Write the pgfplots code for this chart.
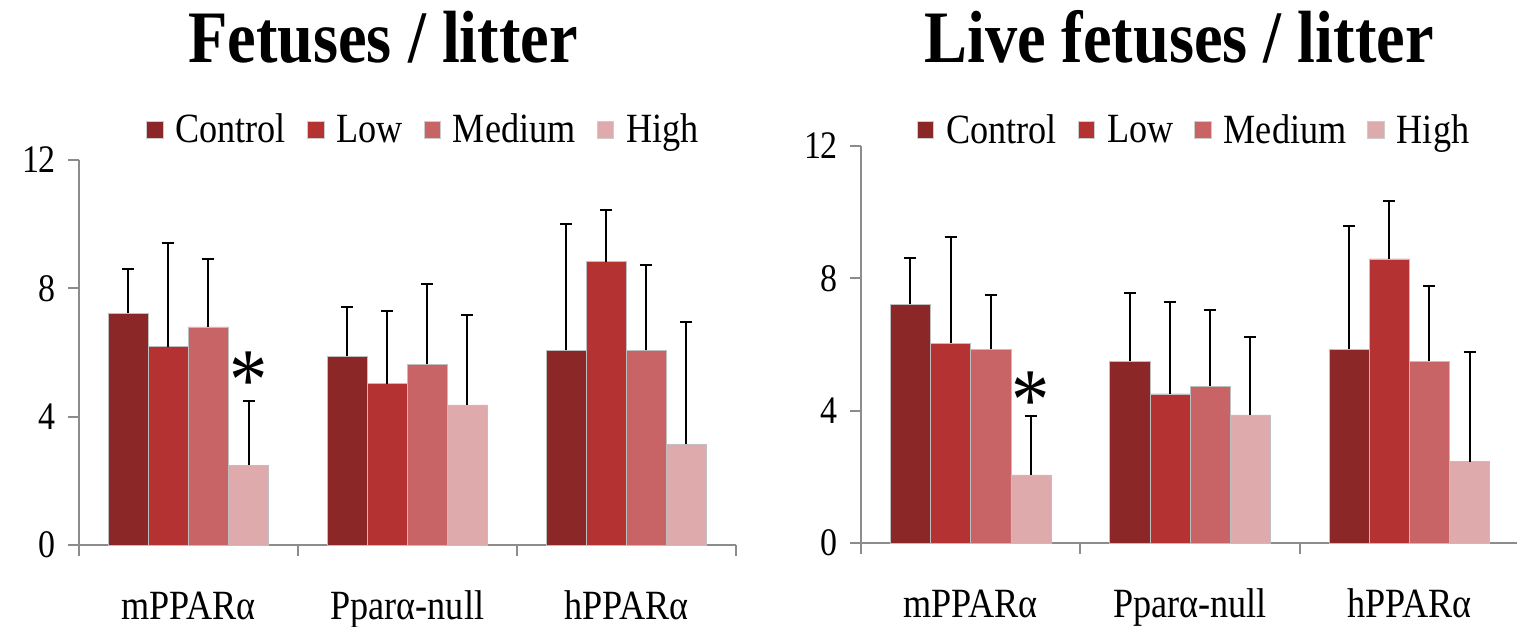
\documentclass[border=0pt]{standalone}
\usepackage{fontspec}
\setmainfont{Liberation Serif}[FakeStretch=0.87]
\usepackage{pgfplots}
\pgfplotsset{compat=1.18}
\usepackage{pgfplotstable}

\definecolor{cCtrl}{HTML}{8B2727}
\definecolor{cLow}{HTML}{B53232}
\definecolor{cMed}{HTML}{C86465}
\definecolor{cHigh}{HTML}{DEAAAB}
\definecolor{axgray}{HTML}{8C8C8C}

% Fetuses / litter
\pgfplotstableread{
x ctrl ctrlE low lowE med medE high highE
0 7.22 1.38 6.18 3.22 6.80 2.10 2.49 2.00
1 5.89 1.52 5.03 2.26 5.64 2.49 4.37 2.80
2 6.07 3.93 8.83 1.60 6.07 2.65 3.14 3.80
}\fetuses

% Live fetuses / litter
\pgfplotstableread{
x ctrl ctrlE low lowE med medE high highE
0 7.21 1.40 6.04 3.20 5.85 1.66 2.06 1.77
1 5.50 2.07 4.51 2.76 4.74 2.30 3.87 2.35
2 5.85 3.74 8.59 1.76 5.50 2.27 2.46 3.30
}\live

\newcommand{\lblfont}{\fontsize{20.8pt}{24pt}\selectfont}
\newcommand{\tickfont}{\fontsize{19.5pt}{22pt}\selectfont}
\newcommand{\ttlfont}{\fontsize{37pt}{40pt}\selectfont\bfseries}

\pgfplotsset{
  panel/.style={
    scale only axis,
    xmin=-0.5, xmax=2.5, ymin=0, ymax=12,
    ybar=0pt, bar width=0.183,
    axis x line*=bottom, axis y line*=left,
    axis line style={-, axgray, line width=0.9pt},
    tick style={axgray, line width=0.9pt},
    tick align=outside,
    major tick length=5.5pt,
    ytick={0,4,8,12},
    yticklabel style={font=\tickfont, xshift=-2.5pt},
    /pgf/number format/assume math mode=true,
    xtick={-0.5,0.5,1.5,2.5},
    xticklabels={},
    extra x ticks={0,1,2},
    extra x tick labels={mPPARα, Pparα-null, hPPARα},
    extra x tick style={major tick length=0pt, xticklabel style={font=\lblfont, anchor=base, yshift=-37pt}},
    legend columns=4,
    legend style={draw=none, fill=none, font=\lblfont, inner sep=0pt,
      nodes={inner sep=1pt},
      /tikz/every odd column/.append style={column sep=5pt},
      /tikz/every even column/.append style={column sep=9.5pt}},
    legend image code/.code={\fill[draw=black!20, ##1] (0pt,-4.2pt) rectangle (8.4pt,4.2pt);},
    every axis plot/.append style={draw=black!25, line width=0.3pt},
    error bars/y dir=plus, error bars/y explicit,
    error bars/error bar style={black, line width=1pt},
    error bars/error mark options={rotate=90, black, line width=1pt, mark size=3pt},
  },
}

\begin{document}
\begin{tikzpicture}
\useasboundingbox (0,0) rectangle (758.5pt,-313.5pt);

\node[font=\ttlfont, anchor=base] at (191.5pt,-31pt) {Fetuses / litter};
\node[font=\ttlfont, anchor=base] at (589.5pt,-31pt) {Live fetuses / litter};

\begin{axis}[panel, at={(39.5pt,-272.5pt)}, anchor=south west,
  width=328.35pt, height=192.5pt,
  legend style={at={(0.524,1.078)}, anchor=center}]
\addplot[fill=cCtrl] table[x=x, y=ctrl, y error=ctrlE] {\fetuses};
\addplot[fill=cLow] table[x=x, y=low, y error=lowE] {\fetuses};
\addplot[fill=cMed] table[x=x, y=med, y error=medE] {\fetuses};
\addplot[fill=cHigh] table[x=x, y=high, y error=highE] {\fetuses};
\legend{Control, Low, Medium, High}
\node[font=\fontsize{44pt}{46pt}\selectfont] at (axis cs:0.2745,5.12) {*};
\end{axis}

\begin{axis}[panel, at={(430.5pt,-271.5pt)}, anchor=south west,
  width=329pt, height=198.5pt,
  legend style={at={(0.506,1.04)}, anchor=center}]
\addplot[fill=cCtrl] table[x=x, y=ctrl, y error=ctrlE] {\live};
\addplot[fill=cLow] table[x=x, y=low, y error=lowE] {\live};
\addplot[fill=cMed] table[x=x, y=med, y error=medE] {\live};
\addplot[fill=cHigh] table[x=x, y=high, y error=highE] {\live};
\legend{Control, Low, Medium, High}
\node[font=\fontsize{44pt}{46pt}\selectfont] at (axis cs:0.2745,4.29) {*};
\end{axis}
\end{tikzpicture}
\end{document}
